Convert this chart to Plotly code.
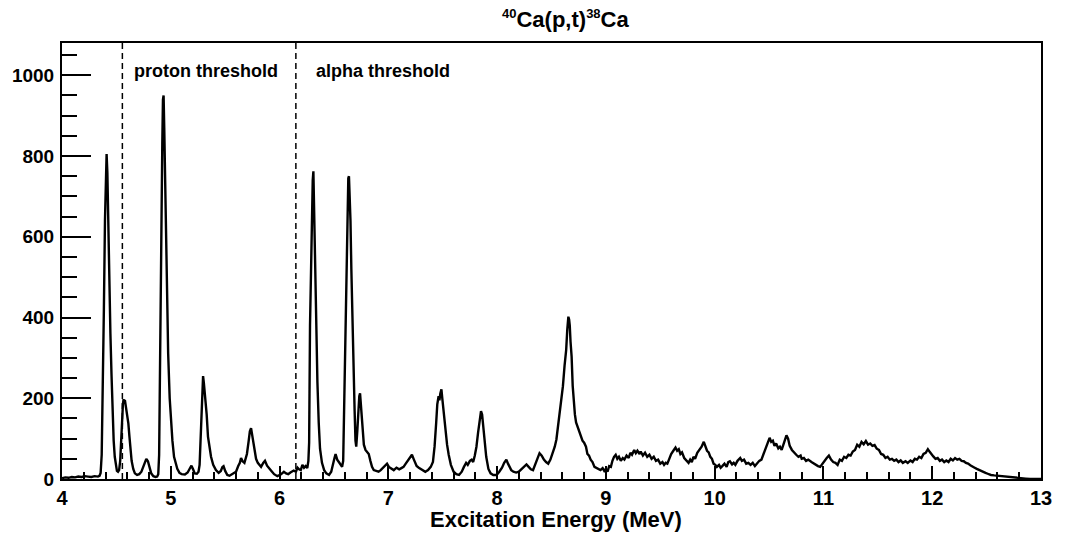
import plotly.graph_objects as go

# Triton spectrum for 40Ca(p,t)38Ca: (excitation energy in MeV, counts per bin)
seg_ground = [
    (4.00, 2), (4.03, 4), (4.06, 3), (4.09, 5), (4.12, 4), (4.15, 6), (4.18, 5),
    (4.21, 7), (4.24, 6), (4.27, 5), (4.30, 7), (4.33, 6), (4.345, 8),
]
seg_4p4_4p9 = [
    (4.355, 15), (4.365, 60), (4.375, 200), (4.385, 420), (4.395, 640), (4.405, 780),
    (4.41, 805), (4.417, 760), (4.425, 620), (4.435, 480), (4.445, 360), (4.455, 260),
    (4.465, 160), (4.475, 95), (4.485, 55), (4.495, 32), (4.505, 20), (4.515, 18),
    (4.525, 22), (4.535, 45), (4.545, 110), (4.552, 150), (4.56, 185), (4.566, 198),
    (4.572, 188), (4.578, 196), (4.585, 185), (4.592, 172), (4.60, 160), (4.61, 138),
    (4.62, 105), (4.63, 72), (4.64, 45), (4.655, 25), (4.67, 14), (4.69, 10), (4.71, 12),
    (4.73, 18), (4.75, 32), (4.765, 45), (4.775, 50), (4.79, 44), (4.805, 28), (4.82, 14),
    (4.84, 7), (4.86, 5), (4.875, 6), (4.885, 12),
]
seg_4p9_6p3 = [
    (4.893, 60), (4.90, 300), (4.907, 470), (4.915, 640), (4.922, 830), (4.928, 940),
    (4.934, 950), (4.94, 870), (4.946, 760), (4.953, 620), (4.963, 450), (4.976, 310),
    (4.99, 200), (5.00, 150), (5.015, 95), (5.03, 55), (5.045, 38), (5.06, 25), (5.08, 15),
    (5.10, 12), (5.13, 11), (5.155, 16), (5.175, 26), (5.19, 33), (5.205, 24), (5.22, 14),
    (5.24, 13), (5.255, 18), (5.265, 35), (5.275, 100), (5.283, 190), (5.29, 240),
    (5.297, 255), (5.304, 238), (5.312, 215), (5.32, 195), (5.33, 160), (5.342, 105),
    (5.355, 75), (5.37, 55), (5.39, 35), (5.415, 22), (5.44, 15), (5.46, 20), (5.475, 30),
    (5.485, 32), (5.50, 20), (5.52, 10), (5.54, 8), (5.56, 12), (5.58, 14), (5.60, 18),
    (5.62, 32), (5.635, 40), (5.646, 52), (5.66, 44), (5.677, 40), (5.70, 62), (5.715, 92),
    (5.727, 118), (5.738, 126), (5.75, 108), (5.765, 75), (5.784, 50), (5.80, 40),
    (5.815, 35), (5.83, 30), (5.85, 40), (5.866, 45), (5.885, 33), (5.905, 25), (5.925, 20),
    (5.95, 12), (5.98, 7), (6.01, 11), (6.04, 18), (6.06, 14), (6.08, 12), (6.10, 16),
    (6.13, 21), (6.15, 18), (6.165, 28), (6.18, 24), (6.195, 22), (6.21, 35), (6.225, 28),
    (6.24, 32), (6.255, 27), (6.265, 45),
]
seg_6p3_7p0 = [
    (6.272, 90), (6.28, 380), (6.29, 560), (6.298, 690), (6.305, 740), (6.311, 762),
    (6.317, 680), (6.325, 520), (6.334, 390), (6.348, 240), (6.36, 140), (6.372, 75),
    (6.39, 40), (6.41, 22), (6.43, 14), (6.455, 10), (6.475, 18), (6.49, 40), (6.505, 52),
    (6.515, 62), (6.53, 48), (6.545, 42), (6.56, 35), (6.575, 30), (6.585, 45),
    (6.595, 200), (6.605, 380), (6.615, 560), (6.625, 690), (6.632, 745), (6.638, 750),
    (6.645, 700), (6.652, 640), (6.66, 520), (6.668, 400), (6.675, 320), (6.683, 240),
    (6.69, 170), (6.698, 95), (6.705, 80), (6.715, 120), (6.725, 175), (6.733, 205),
    (6.74, 212), (6.748, 180), (6.756, 140), (6.765, 105), (6.775, 85), (6.79, 72),
    (6.805, 68), (6.82, 62), (6.835, 45), (6.85, 30), (6.866, 22), (6.885, 20), (6.91, 18),
    (6.93, 22), (6.95, 28), (6.97, 35), (6.988, 38),
]
seg_7p0_8p45 = [
    (7.005, 30), (7.025, 26), (7.05, 22), (7.075, 28), (7.10, 24), (7.12, 27), (7.14, 30),
    (7.16, 38), (7.18, 45), (7.20, 55), (7.217, 60), (7.235, 48), (7.26, 32), (7.28, 28),
    (7.30, 24), (7.32, 20), (7.34, 18), (7.365, 22), (7.39, 30), (7.41, 42), (7.425, 80),
    (7.44, 140), (7.45, 185), (7.462, 205), (7.47, 195), (7.478, 212), (7.488, 222),
    (7.496, 200), (7.505, 175), (7.515, 150), (7.525, 120), (7.54, 85), (7.555, 60),
    (7.575, 35), (7.60, 18), (7.625, 12), (7.65, 10), (7.675, 18), (7.695, 30), (7.715, 40),
    (7.73, 35), (7.75, 45), (7.766, 48), (7.78, 42), (7.795, 58), (7.81, 80), (7.825, 115),
    (7.84, 150), (7.852, 168), (7.862, 160), (7.872, 130), (7.887, 88), (7.90, 55),
    (7.92, 25), (7.94, 14), (7.965, 10), (7.995, 10), (8.02, 18), (8.045, 28), (8.065, 40),
    (8.085, 48), (8.10, 38), (8.115, 30), (8.13, 22), (8.15, 18), (8.175, 16), (8.20, 18),
    (8.225, 24), (8.25, 32), (8.27, 36), (8.29, 30), (8.31, 24), (8.33, 22), (8.35, 35),
    (8.37, 50), (8.39, 64), (8.41, 58), (8.43, 48),
]
seg_8p45_10p0 = [
    (8.45, 42), (8.47, 38), (8.49, 48), (8.51, 62), (8.53, 80), (8.545, 98), (8.56, 130),
    (8.575, 160), (8.59, 204), (8.605, 230), (8.62, 280), (8.635, 320), (8.645, 370),
    (8.655, 402), (8.662, 395), (8.668, 380), (8.675, 340), (8.685, 303), (8.695, 230),
    (8.705, 177), (8.715, 160), (8.726, 140), (8.74, 128), (8.755, 118), (8.77, 108),
    (8.785, 95), (8.80, 90), (8.817, 80), (8.83, 62), (8.845, 58), (8.86, 48), (8.877, 42),
    (8.895, 30), (8.91, 28), (8.93, 25), (8.95, 22), (8.97, 27), (8.985, 20), (9.00, 25),
    (9.015, 18), (9.03, 32), (9.046, 30), (9.06, 45), (9.075, 55), (9.09, 60), (9.105, 50),
    (9.12, 55), (9.137, 45), (9.155, 52), (9.17, 48), (9.19, 58), (9.21, 52), (9.225, 65),
    (9.24, 60), (9.26, 72), (9.275, 64), (9.29, 70), (9.31, 62), (9.32, 68), (9.34, 58),
    (9.36, 65), (9.38, 55), (9.40, 60), (9.42, 50), (9.44, 55), (9.46, 45), (9.48, 48),
    (9.50, 38), (9.52, 42), (9.535, 35), (9.55, 40), (9.565, 38), (9.58, 48), (9.60, 62),
    (9.62, 70), (9.64, 78), (9.655, 70), (9.67, 74), (9.685, 62), (9.70, 66), (9.72, 52),
    (9.74, 45), (9.76, 40), (9.775, 48), (9.79, 42), (9.805, 55), (9.82, 50), (9.84, 65),
    (9.86, 72), (9.88, 80), (9.90, 92), (9.915, 82), (9.93, 70), (9.945, 66), (9.96, 55),
    (9.975, 50), (9.99, 38),
]
seg_10p0_11p5 = [
    (10.006, 35), (10.02, 30), (10.04, 35), (10.055, 28), (10.07, 32), (10.09, 38),
    (10.11, 30), (10.125, 42), (10.14, 44), (10.16, 36), (10.175, 40), (10.19, 35),
    (10.21, 45), (10.235, 52), (10.25, 45), (10.27, 48), (10.29, 38), (10.31, 40),
    (10.33, 35), (10.35, 40), (10.37, 32), (10.39, 38), (10.41, 45), (10.43, 48),
    (10.45, 62), (10.47, 80), (10.49, 90), (10.505, 102), (10.52, 92), (10.535, 95),
    (10.55, 82), (10.565, 88), (10.585, 76), (10.60, 80), (10.616, 72), (10.63, 85),
    (10.645, 100), (10.66, 108), (10.675, 100), (10.69, 82), (10.71, 72), (10.73, 65),
    (10.75, 60), (10.77, 55), (10.79, 58), (10.80, 50), (10.82, 52), (10.84, 45),
    (10.86, 48), (10.89, 42), (10.91, 38), (10.93, 35), (10.95, 32), (10.97, 30),
    (10.99, 38), (11.01, 45), (11.03, 52), (11.05, 58), (11.07, 48), (11.09, 42),
    (11.11, 40), (11.13, 35), (11.15, 48), (11.17, 45), (11.19, 55), (11.21, 52),
    (11.23, 60), (11.25, 58), (11.27, 68), (11.29, 72), (11.31, 85), (11.33, 80),
    (11.35, 92), (11.37, 86), (11.39, 94), (11.41, 85), (11.43, 88), (11.45, 82),
    (11.47, 84), (11.49, 75),
]
seg_11p5_13p0 = [
    (11.51, 72), (11.53, 62), (11.55, 60), (11.57, 52), (11.59, 55), (11.61, 48),
    (11.63, 50), (11.65, 45), (11.67, 48), (11.69, 42), (11.71, 46), (11.73, 40),
    (11.755, 44), (11.775, 40), (11.80, 46), (11.82, 42), (11.84, 50), (11.86, 48),
    (11.88, 55), (11.90, 52), (11.92, 62), (11.94, 65), (11.96, 74), (11.975, 68),
    (11.99, 62), (12.01, 56), (12.03, 50), (12.05, 52), (12.07, 45), (12.09, 48),
    (12.11, 42), (12.13, 46), (12.15, 42), (12.17, 50), (12.19, 46), (12.21, 52),
    (12.23, 48), (12.25, 50), (12.27, 45), (12.29, 44), (12.31, 40), (12.33, 38),
    (12.35, 34), (12.37, 30), (12.39, 28), (12.41, 25), (12.43, 22), (12.45, 20),
    (12.47, 17), (12.49, 15), (12.51, 13), (12.54, 10), (12.57, 9), (12.60, 8), (12.63, 7),
    (12.66, 6), (12.70, 5), (12.74, 4), (12.78, 3), (12.82, 2), (12.86, 1), (12.90, 0),
    (13.00, 0),
]

# Reaction thresholds in 38Ca (MeV) and where their labels start
thresholds = [4.555, 6.15]
threshold_labels = ["proton threshold", "alpha threshold"]
threshold_label_x = [4.64, 6.32]

x_ticks = [4, 5, 6, 7, 8, 9, 10, 11, 12, 13]
y_ticks = [0, 200, 400, 600, 800, 1000]

segments = [seg_ground, seg_4p4_4p9, seg_4p9_6p3, seg_6p3_7p0, seg_7p0_8p45,
            seg_8p45_10p0, seg_10p0_11p5, seg_11p5_13p0]
energy = [e for seg in segments for e, _ in seg]
counts = [c for seg in segments for _, c in seg]

FONT = "Liberation Sans, Arial, Helvetica, sans-serif"

fig = go.Figure()
fig.add_trace(go.Scatter(
    x=energy, y=counts, mode="lines",
    line=dict(color="black", width=2.4), hoverinfo="x+y", showlegend=False,
))

for e_th in thresholds:
    fig.add_shape(type="line", xref="x", yref="paper", x0=e_th, x1=e_th, y0=0, y1=1,
                  line=dict(color="black", width=1.5, dash="6px,4px"))

for name, xpos in zip(threshold_labels, threshold_label_x):
    fig.add_annotation(x=xpos, y=1011, xref="x", yref="y", text=name, showarrow=False,
                       xanchor="left", yanchor="middle",
                       font=dict(family=FONT, size=18, color="black", weight="bold"))

title_text = ("<sup><span style='font-size:13px'>40</span></sup>Ca(p,t)"
              "<sup><span style='font-size:13px'>38</span></sup>Ca")
fig.add_annotation(x=0.514, y=1.055, xref="paper", yref="paper",
                   text=title_text, showarrow=False,
                   xanchor="center", yanchor="middle",
                   font=dict(family=FONT, size=22, color="black", weight="bold"))
fig.add_annotation(x=0.505, y=-0.094, xref="paper", yref="paper",
                   text="Excitation Energy (MeV)", showarrow=False,
                   xanchor="center", yanchor="middle",
                   font=dict(family=FONT, size=22, color="black", weight="bold"))

fig.update_layout(
    width=1083, height=533,
    margin=dict(l=57, r=42, t=43, b=54),
    paper_bgcolor="white", plot_bgcolor="white",
    showlegend=False,
)
fig.update_xaxes(
    range=[4, 13], tickvals=x_ticks, ticktext=[str(v) for v in x_ticks],
    ticks="inside", ticklen=13, tickwidth=1.5, tickcolor="black",
    minor=dict(dtick=0.2, tick0=4, ticks="inside", ticklen=7, tickwidth=1.5, tickcolor="black"),
    showline=True, linecolor="black", linewidth=2, mirror=True,
    showgrid=False, zeroline=False, ticklabelstandoff=0,
    tickfont=dict(family=FONT, size=20, color="black", weight="bold"),
)
fig.update_yaxes(
    range=[0, 1080], tickvals=y_ticks, ticktext=[str(v) for v in y_ticks],
    ticks="inside", ticklen=29, tickwidth=1.5, tickcolor="black",
    minor=dict(dtick=50, tick0=0, ticks="inside", ticklen=15, tickwidth=1.5, tickcolor="black"),
    showline=True, linecolor="black", linewidth=2, mirror=True,
    showgrid=False, zeroline=False, ticklabelstandoff=2,
    tickfont=dict(family=FONT, size=19, color="black", weight="bold"),
)

fig.write_html("out.html")
